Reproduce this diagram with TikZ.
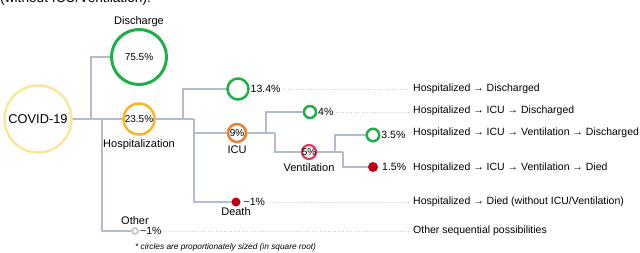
\documentclass[tikz,border=0pt]{standalone}
\usepackage{fontspec}
\setmainfont{Liberation Sans}
\usetikzlibrary{positioning,backgrounds}
\definecolor{covidcol}{HTML}{FCE59E}
\definecolor{dischcol}{HTML}{1FAF48}
\definecolor{hospcol}{HTML}{FDB524}
\definecolor{icucol}{HTML}{EE7D30}
\definecolor{ventcol}{HTML}{E6385C}
\definecolor{deathcol}{HTML}{C10018}
\definecolor{othercol}{HTML}{CDCDCD}
\definecolor{linkcol}{HTML}{B3BCCC}
\definecolor{leadcol}{HTML}{D0D0D0}

\begin{document}
\begin{tikzpicture}[x=1pt,y=-1pt,
   ring/.style={circle,draw=#1,line width=2.5pt,inner sep=0pt,outer sep=0pt,
              font=\fontsize{10}{12}\selectfont},
   dotnode/.style={circle,fill=deathcol,inner sep=0pt,outer sep=0pt,minimum size=#1},
   lbl/.style={inner sep=0pt,font=\fontsize{11}{13}\selectfont},
   pct/.style={inner sep=0pt,font=\fontsize{10.5}{12}\selectfont},
   seq/.style={anchor=west,inner sep=0pt,font=\fontsize{10.5}{12}\selectfont},
   every label/.style={inner sep=0pt,font=\fontsize{10}{12}\selectfont},
   link/.style={draw=linkcol,line width=1.8pt},
   lead/.style={draw=leadcol,dotted,line width=0.6pt,shorten <=2pt,shorten >=4pt},
   node distance=2pt,
]
\useasboundingbox (0,0) rectangle (640,252);
\clip (0,0) rectangle (640,252);

% caption line, cut off by the frame
\node[anchor=base west,inner sep=0pt,font=\fontsize{13.7}{15}\selectfont]
     (capt) at (0,2.5) {(without ICU/Ventilation).};

\node[ring=covidcol,minimum size=67pt,font=\fontsize{12.8}{14}\selectfont]
     (covid) at (38,119) {COVID-19};
\node[ring=dischcol,line width=3pt,minimum size=55pt] (disch) at (139,57) {75.5\%};
\node[lbl,above=3pt of disch] (dischl) {Discharge};
\node[ring=hospcol,minimum size=31pt] (hosp) at (139,119) {23.5\%};
\node[lbl,below=5pt of hosp] (hospl) {Hospitalization};

\node[ring=dischcol,minimum size=21pt] (n134) at (238,89) {};
\node[pct,right=2pt of n134] (n134l) {13.4\%};
\node[ring=icucol,minimum size=18pt,label=center:9\%] (icu) at (237,133) {};
\node[lbl,below=4pt of icu] (icul) {ICU};
\node[ring=dischcol,minimum size=12pt] (n4) at (310,112) {};
\node[pct,right=2pt of n4] (n4l) {4\%};
\node[ring=ventcol,line width=2.2pt,minimum size=14pt,label=center:5\%] (vent) at (309,152) {};
\node[lbl,below=4pt of vent] (ventl) {Ventilation};
\node[ring=dischcol,minimum size=12.5pt] (n35) at (373,135) {};
\node[pct,right=2pt of n35] (n35l) {3.5\%};
\node[dotnode=10pt] (died) at (373,167) {};
\node[pct,right=4pt of died] (diedl) {1.5\%};
\node[dotnode=9pt] (death) at (236,202) {};
\node[pct,right=3pt of death] (deathl) {\textasciitilde1\%};
\node[lbl,below=1pt of death] (deatht) {Death};
\node[ring=othercol,line width=2pt,minimum size=6pt] (other) at (135,231) {};
\node[pct,right=2pt of other] (otherl) {\textasciitilde1\%};
\node[lbl,above=3pt of other] (othert) {Other};

\node[seq] (s1) at (413,89)  {Hospitalized → Discharged};
\node[seq] (s2) at (413,111) {Hospitalized → ICU → Discharged};
\node[seq] (s3) at (413,133) {Hospitalized → ICU → Ventilation → Discharged};
\node[seq] (s4) at (413,168) {Hospitalized → ICU → Ventilation → Died};
\node[seq] (s5) at (413,202) {Hospitalized → Died (without ICU/Ventilation)};
\node[seq] (s6) at (413,231) {Other sequential possibilities};

\node[anchor=west,inner sep=0pt,font=\fontsize{8.3}{10}\selectfont\itshape]
     (fnote) at (135,247) {* circles are proportionately sized (in square root)};

\coordinate (j1) at (91,119);
\coordinate (j2) at (102,119);
\coordinate (j3) at (183,119);
\coordinate (j4) at (194,119);
\coordinate (j5) at (266,133);
\coordinate (j6) at (275,133);
\coordinate (j7) at (335,152);
\coordinate (j8) at (343,152);

\begin{scope}[on background layer]
\draw[link] (covid.east) -- (hosp.west);
\draw[link] (disch.west) -| (j1);
\draw[link] (other.west) -| (j2);
\draw[link] (hosp.east) -- (j4);
\draw[link] (n134.west) -| (j3);
\draw[link] (icu.west) -| (j4);
\draw[link] (death.west) -| (j4);
\draw[link] (icu.east) -- (j6);
\draw[link] (n4.west) -| (j5);
\draw[link] (vent.west) -| (j6);
\draw[link] (vent.east) -- (j8);
\draw[link] (n35.west) -| (j7);
\draw[link] (died.west) -| (j8);
\end{scope}

\draw[lead] (n134l.east) -- (n134l.east -| s1.west);
\draw[lead] (n4l.east) -- (n4l.east -| s2.west);
\draw[lead] (deathl.east) -- (deathl.east -| s5.west);
\draw[lead] (otherl.east) -- (otherl.east -| s6.west);
\end{tikzpicture}
\end{document}
